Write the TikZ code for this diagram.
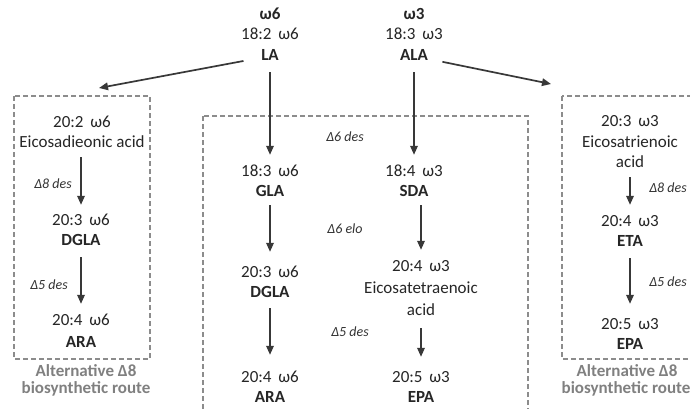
\documentclass[tikz,border=0pt]{standalone}
\usepackage{fontspec}
\setmainfont{Carlito}
\usetikzlibrary{arrows.meta}
\newcommand{\om}[2]{#1\hspace{0.4em}ω#2}
\begin{document}
\begin{tikzpicture}[x=1pt,y=-1pt,
 t/.style={inner sep=0pt, text height=12pt, text depth=3pt, font=\fontsize{17}{20}\selectfont, text=black!85},
 tb/.style={t, font=\fontsize{17}{20}\selectfont\bfseries},
 lab/.style={inner sep=0pt, font=\fontsize{14}{16}\selectfont\itshape, text=black!80},
 alt/.style={inner sep=0pt, font=\fontsize{17}{19}\selectfont\bfseries, text=black!50},
 arr/.style={draw=black!78, line width=1.7pt, -{Triangle[length=9pt,width=7.5pt]}},
 box/.style={draw=black!45, line width=1.3pt, dash pattern=on 5pt off 3pt}]
\clip (0,0) rectangle (690,408);
\fill[white] (0,0) rectangle (690,408);

% dashed boxes
\draw[box] (14,96) rectangle (150,359);
\draw[box] (203,116) rectangle (528,430);
\draw[box] (562,96) rectangle (720,359);

% top
\node[tb] (w6) at (270,15) {ω6};
\node[t]  (la1) at (270,35) {\om{18:2}{6}};
\node[tb] (la2) at (270,56) {LA};
\node[tb] (w3) at (414,15) {ω3};
\node[t]  (ala1) at (414,35) {\om{18:3}{3}};
\node[tb] (ala2) at (414,56) {ALA};
\coordinate (lend) at (99,88);
\coordinate (rend) at (551,84);

% middle box, omega-6 column
\node[t]  (gla1) at (270,172) {\om{18:3}{6}};
\node[tb] (gla2) at (270,192) {GLA};
\node[t]  (dg1) at (270,273) {\om{20:3}{6}};
\node[tb] (dg2) at (270,293) {DGLA};
\node[t]  (ar1) at (270,378) {\om{20:4}{6}};
\node[tb] (ar2) at (270,398) {ARA};

% middle box, omega-3 column
\node[t]  (sda1) at (414,172) {\om{18:4}{3}};
\node[tb] (sda2) at (414,192) {SDA};
\node[t]  (ei1) at (421,267) {\om{20:4}{3}};
\node[t]  (ei2) at (421,289) {Eicosatetraenoic};
\node[t]  (ei3) at (421,311) {acid};
\node[t]  (ep1) at (421,378) {\om{20:5}{3}};
\node[tb] (ep2) at (421,398) {EPA};

\node[lab] (l1) at (345,137) {Δ6 des};
\node[lab] (l2) at (345,229) {Δ6 elo};
\node[lab] (l3) at (350,332) {Δ5 des};

% left box
\node[t]  (a1) at (82,123) {\om{20:2}{6}};
\node[t]  (a2) at (82,143) {Eicosadieonic acid};
\node[t]  (b1) at (81,221) {\om{20:3}{6}};
\node[tb] (b2) at (81,241) {DGLA};
\node[t]  (c1) at (81,321) {\om{20:4}{6}};
\node[tb] (c2) at (81,343) {ARA};
\node[lab] (l4) at (53,184) {Δ8 des};
\node[lab] (l5) at (49,285) {Δ5 des};
\node[alt] (alt1) at (86,371) {Alternative Δ8};
\node[alt] (alt2) at (86,389) {biosynthetic route};

% right box
\node[t]  (d1) at (630,122) {\om{20:3}{3}};
\node[t]  (d2) at (630,143) {Eicosatrienoic};
\node[t]  (d3) at (630,163) {acid};
\node[t]  (e1) at (630,222) {\om{20:4}{3}};
\node[tb] (e2) at (630,242) {ETA};
\node[t]  (f1) at (630,325) {\om{20:5}{3}};
\node[tb] (f2) at (630,345) {EPA};
\node[lab] (l6) at (668,188) {Δ8 des};
\node[lab] (l7) at (668,282) {Δ5 des};
\node[alt] (alt3) at (627,371) {Alternative Δ8};
\node[alt] (alt4) at (626,389) {biosynthetic route};

% arrows
\draw[arr, shorten <=27pt] (la2.center) -- (lend);
\draw[arr, shorten <=29pt] (ala2.center) -- (rend);
\draw[arr, shorten <=8.5pt, shorten >=9.5pt] (la2.south) -- (gla1.north);
\draw[arr, shorten <=5.5pt, shorten >=13.5pt] (gla2.south) -- (dg1.north);
\draw[arr, shorten <=7.5pt, shorten >=15.5pt] (dg2.south) -- (ar1.north);
\draw[arr, shorten <=8.5pt, shorten >=9.5pt] (ala2.south) -- (sda1.north);
\draw[arr, shorten <=5.5pt, shorten >=9.5pt] (sda2.south -| ei1.north) -- (ei1.north);
\draw[arr, shorten <=9.5pt, shorten >=13.5pt] (ei3.south) -- (ep1.north);
\draw[arr, shorten <=6.5pt, shorten >=8.5pt] (a2.south -| b1.north) -- (b1.north);
\draw[arr, shorten <=8.5pt, shorten >=9.5pt] (b2.south) -- (c1.north);
\draw[arr, shorten <=6.5pt, shorten >=9.5pt] (d3.south) -- (e1.north);
\draw[arr, shorten <=8.5pt, shorten >=13.5pt] (e2.south) -- (f1.north);
\end{tikzpicture}
\end{document}
